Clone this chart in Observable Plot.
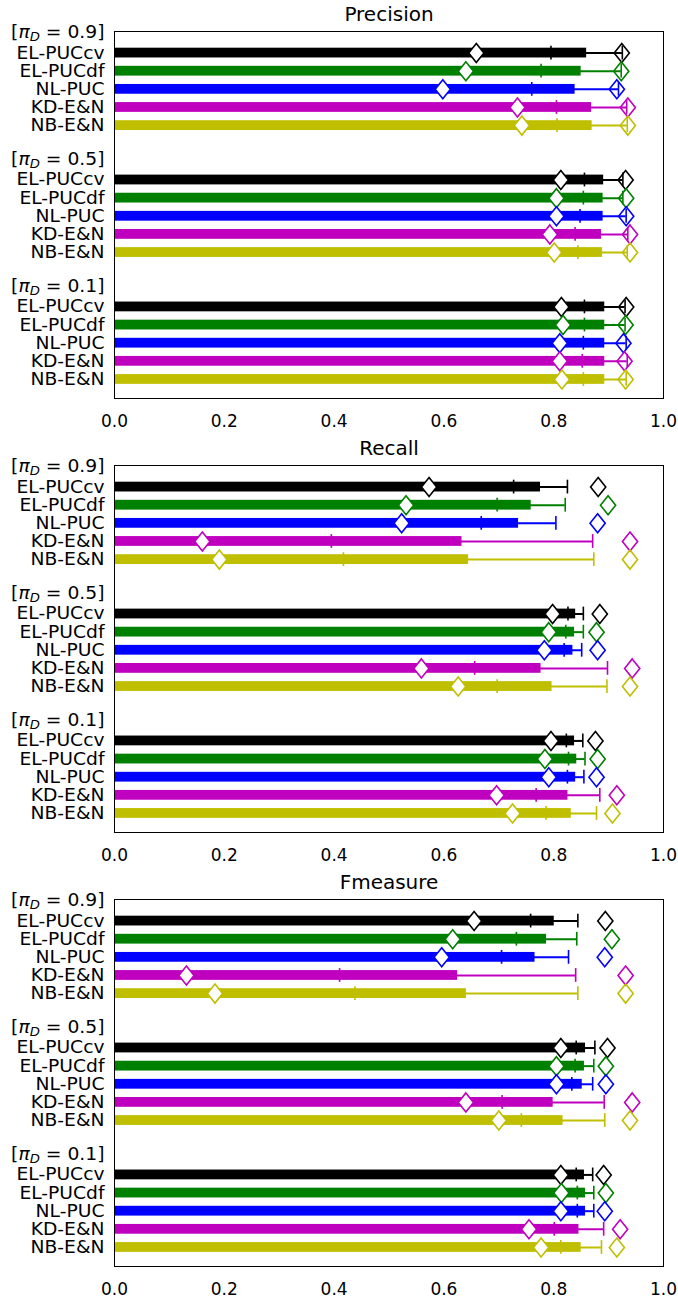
<!DOCTYPE html>
<html><head><meta charset="utf-8">
<script src="https://cdn.jsdelivr.net/npm/d3@7"></script>
<script src="https://cdn.jsdelivr.net/npm/@observablehq/plot@0.6"></script>
<style>body{margin:0;background:#fff} svg{display:block}</style>
</head><body><div id="chart"></div>
<script>
const methods = ["EL-PUCcv","EL-PUCdf","NL-PUC","KD-E&N","NB-E&N"];
const priors = ["0.9","0.5","0.1"];
const metrics = ["Precision","Recall","Fmeasure"];
const xTicks = [0, 0.2, 0.4, 0.6, 0.8, 1.0];
const methodColors = ["#000000","#008000","#0000ff","#bf00bf","#bfbf00"];

// values ordered: prior 0.9 (5 methods), prior 0.5, prior 0.1
const precisionMean = [0.860,0.850,0.839,0.869,0.870, 0.891,0.890,0.890,0.887,0.889, 0.893,0.893,0.893,0.893,0.893];
const precisionErr  = [0.065,0.073,0.079,0.064,0.064, 0.035,0.036,0.042,0.048,0.045, 0.037,0.037,0.039,0.041,0.039];
const precisionLow  = [0.659,0.640,0.598,0.734,0.742, 0.813,0.805,0.805,0.793,0.801, 0.814,0.817,0.811,0.811,0.815];
const precisionHigh = [0.924,0.923,0.915,0.935,0.935, 0.931,0.932,0.932,0.939,0.939, 0.932,0.931,0.927,0.929,0.931];

const recallMean = [0.776,0.759,0.736,0.633,0.645, 0.840,0.838,0.835,0.777,0.797, 0.838,0.842,0.840,0.826,0.832];
const recallErr  = [0.049,0.062,0.068,0.238,0.228, 0.014,0.016,0.016,0.121,0.100, 0.015,0.015,0.015,0.058,0.046];
const recallLow  = [0.573,0.531,0.523,0.160,0.191, 0.798,0.791,0.783,0.559,0.626, 0.795,0.784,0.791,0.696,0.725];
const recallHigh = [0.881,0.899,0.880,0.939,0.939, 0.884,0.878,0.880,0.943,0.939, 0.876,0.880,0.878,0.915,0.907];

const fmeasureMean = [0.801,0.787,0.766,0.625,0.641, 0.858,0.856,0.852,0.799,0.817, 0.856,0.858,0.858,0.846,0.850];
const fmeasureErr  = [0.043,0.055,0.061,0.215,0.203, 0.017,0.017,0.019,0.093,0.076, 0.015,0.015,0.015,0.045,0.037];
const fmeasureLow  = [0.655,0.616,0.596,0.131,0.183, 0.813,0.805,0.805,0.640,0.700, 0.813,0.814,0.813,0.755,0.777];
const fmeasureHigh = [0.894,0.906,0.893,0.931,0.931, 0.898,0.895,0.895,0.943,0.939, 0.891,0.895,0.893,0.921,0.915];

const series = {
  Precision: [precisionMean, precisionErr, precisionLow, precisionHigh],
  Recall: [recallMean, recallErr, recallLow, recallHigh],
  Fmeasure: [fmeasureMean, fmeasureErr, fmeasureLow, fmeasureHigh]
};

// row layout: group label row, then 5 method rows, then a spacer
const tickRows = [];
const tickLabel = new Map();
priors.forEach((p, g) => {
  tickRows.push(7 * g); tickLabel.set(7 * g, `[π_D = ${p}]`);
  methods.forEach((m, k) => { tickRows.push(7 * g + 1 + k); tickLabel.set(7 * g + 1 + k, m); });
});

const diamond = {
  draw(context, size) {
    const h = Math.sqrt(size / Math.PI), w = h * 0.8;
    context.moveTo(0, -h); context.lineTo(w, 0); context.lineTo(0, h); context.lineTo(-w, 0); context.closePath();
  }
};

const HB = 0.27, HC = 0.38;
const ns = "http://www.w3.org/2000/svg";

for (const metric of metrics) {
  const [mean, err, low, high] = series[metric];
  const rows = [];
  priors.forEach((p, g) => methods.forEach((m, k) => {
    const i = g * 5 + k;
    rows.push({row: 7 * g + 1 + k, method: m, color: methodColors[k], mean: mean[i], err: err[i], low: low[i], high: high[i]});
  }));
  const plot = Plot.plot({
    width: 678, height: 434,
    marginLeft: 114, marginRight: 15, marginTop: 31, marginBottom: 36,
    style: {fontFamily: "DejaVu Sans", background: "#fff", color: "#000"},
    x: {domain: [0, 1], label: null},
    y: {domain: [-0.19, 20.05], reverse: true, label: null},
    color: {type: "identity"},
    marks: [
      Plot.rectX(rows, {x1: 0, x2: "mean", y1: d => d.row - HB, y2: d => d.row + HB, fill: "color"}),
      Plot.ruleY(rows, {x1: d => d.mean - d.err, x2: d => d.mean + d.err, y: "row", stroke: "color", strokeWidth: 2}),
      Plot.ruleX(rows, {x: d => d.mean - d.err, y1: d => d.row - HC, y2: d => d.row + HC, stroke: "color", strokeWidth: 1.6}),
      Plot.ruleX(rows, {x: d => d.mean + d.err, y1: d => d.row - HC, y2: d => d.row + HC, stroke: "color", strokeWidth: 1.6}),
      Plot.dot(rows, {x: "low", y: "row", symbol: diamond, r: 9.5, fill: "white", stroke: "color", strokeWidth: 1.6}),
      Plot.dot(rows, {x: "high", y: "row", symbol: diamond, r: 9.5, fill: "none", stroke: "color", strokeWidth: 1.6}),
      Plot.axisX({ticks: xTicks, tickFormat: d3.format(".1f"), tickSize: 0, tickPadding: 16, fontSize: 17, label: null}),
      Plot.axisY({ticks: tickRows, tickFormat: d => tickLabel.get(d), tickSize: 0, tickPadding: 10, fontSize: 17, label: null}),
      Plot.text([metric], {frameAnchor: "top", dy: -17, lineAnchor: "middle", fontSize: 20}),
      Plot.frame({stroke: "#000", strokeWidth: 1})
    ]
  });
  // mathtext-like group labels
  plot.querySelectorAll("text").forEach(t => {
    const s = t.textContent;
    if (s.startsWith("[π_D")) {
      const v = s.match(/= (.*)\]/)[1];
      t.textContent = "";
      const a = document.createElementNS(ns, "tspan"); a.textContent = "["; a.setAttribute("dy", "-2.5");
      const b = document.createElementNS(ns, "tspan"); b.textContent = "π"; b.setAttribute("font-style", "italic");
      const c = document.createElementNS(ns, "tspan"); c.textContent = "D"; c.setAttribute("font-style", "italic"); c.setAttribute("font-size", "12"); c.setAttribute("dy", "3");
      const e = document.createElementNS(ns, "tspan"); e.textContent = ` = ${v}]`; e.setAttribute("dy", "-3");
      t.append(a, b, c, e);
    }
  });
  document.getElementById("chart").appendChild(plot);
  // widen y tick labels slightly, as in the reference rendering
  plot.querySelectorAll('g[aria-label="y-axis tick label"] text').forEach(t => {
    const len = t.getComputedTextLength();
    if (len > 0) { t.setAttribute("textLength", (len * 1.1).toFixed(1)); t.setAttribute("lengthAdjust", "spacingAndGlyphs"); }
  });
}
</script>
</body></html>
